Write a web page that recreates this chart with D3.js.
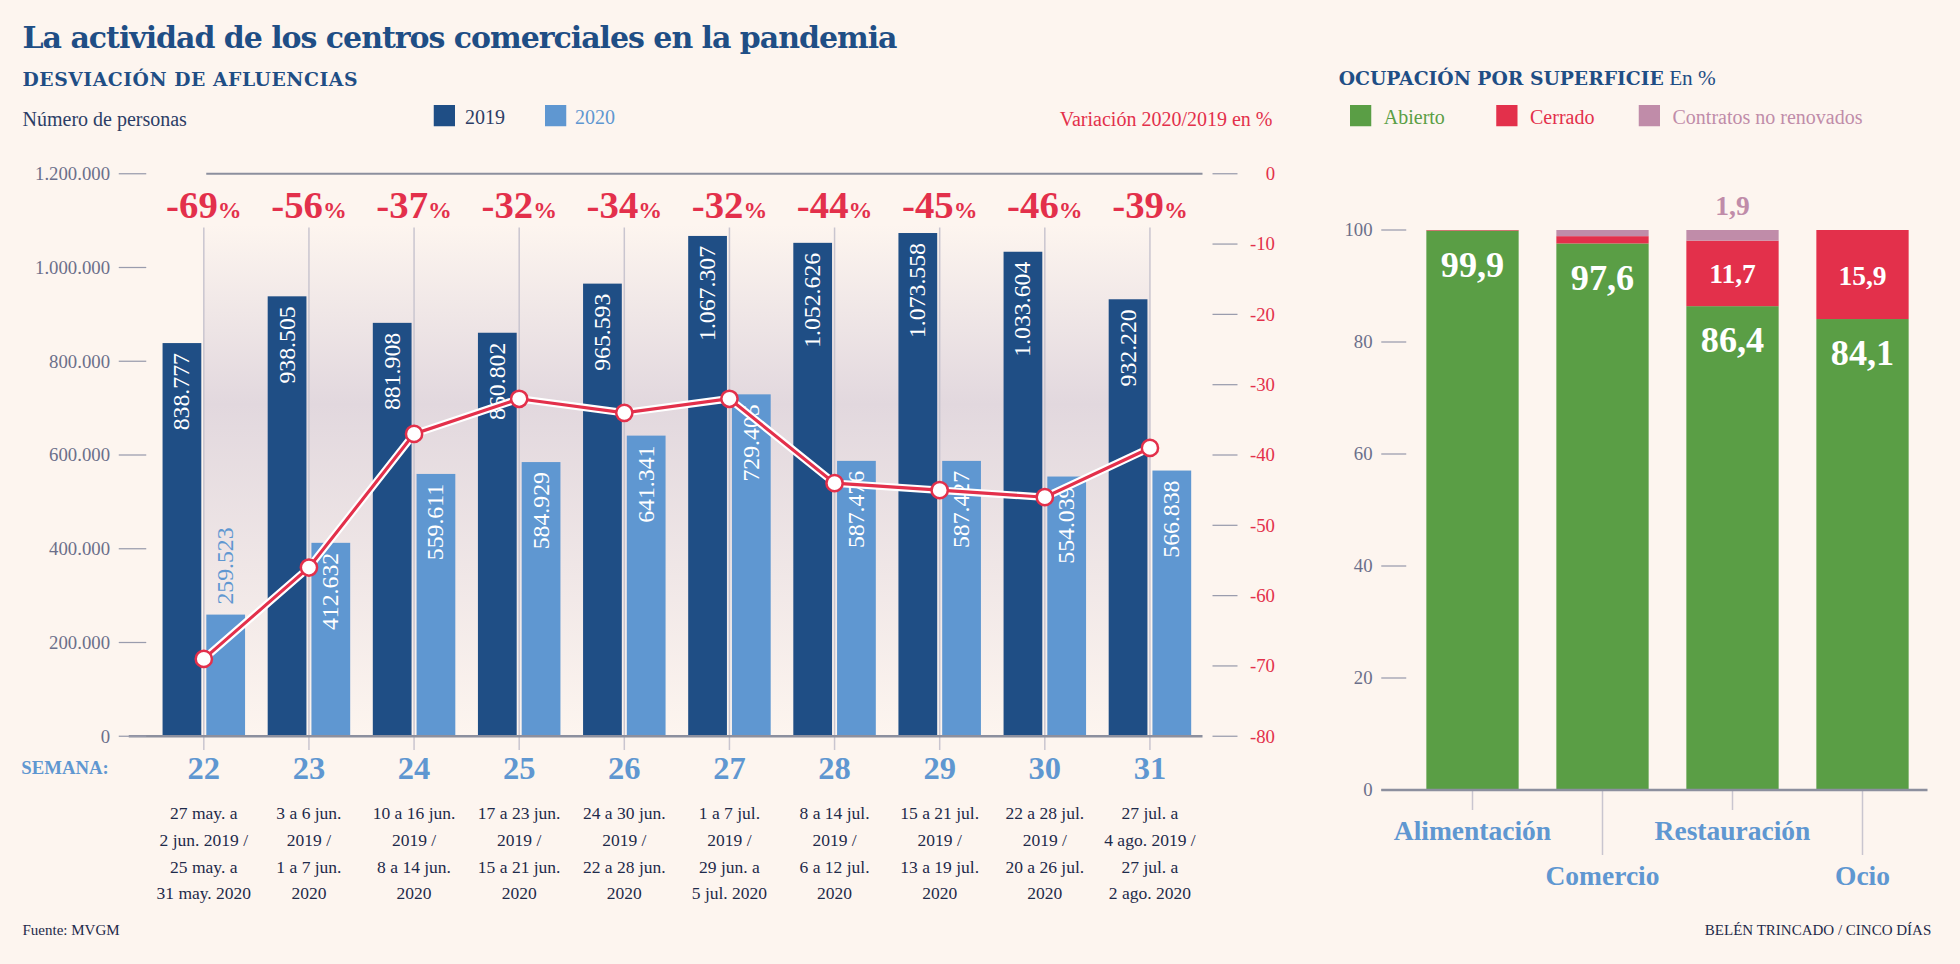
<!DOCTYPE html>
<html><head><meta charset="utf-8">
<script src="https://cdn.jsdelivr.net/npm/d3@7"></script>
<style>body{margin:0;background:#fdf5ef}</style></head>
<body><svg id="c" width="1960" height="964"></svg>
<script>
const weeks=["22","23","24","25","26","27","28","29","30","31"];
const v2019=[838777,938505,881908,860802,965593,1067307,1052626,1073558,1033604,932220];
const v2020=[259523,412632,559611,584929,641341,729405,587476,587427,554039,566838];
const variation=[-69,-56,-37,-32,-34,-32,-44,-45,-46,-39];
const dates=[["27 may. a","2 jun. 2019 /","25 may. a","31 may.  2020"],["3 a 6 jun.","2019 /","1 a 7 jun.","2020"],["10 a 16 jun.","2019 /","8 a 14 jun.","2020"],["17 a 23 jun.","2019 /","15 a 21 jun.","2020"],["24 a 30 jun.","2019 /","22 a 28 jun.","2020"],["1 a 7 jul.","2019 /","29 jun. a","5 jul. 2020"],["8 a 14 jul.","2019 /","6 a 12 jul.","2020"],["15 a 21 jul.","2019 /","13 a 19 jul.","2020"],["22 a 28 jul.","2019 /","20 a 26 jul.","2020"],["27 jul. a","4 ago. 2019 /","27 jul. a","2 ago. 2020"]];
const leftTicks=[0,200000,400000,600000,800000,1000000,1200000];
const rightTicks=[0,-10,-20,-30,-40,-50,-60,-70,-80];
const sectors=["Alimentación","Comercio","Restauración","Ocio"];
const abierto=[99.9,97.6,86.4,84.1];
const cerrado=[0.1,1.3,11.7,15.9];
const noRenov=[0,1.1,1.9,0];
const pctTicks=[0,20,40,60,80,100];

const C19="#1f4e85",C20="#5f97d1",RED="#e3304b",GR="#5a9e45",PK="#c08ca9",AX="#6b6f8a";
const SERIF="'DejaVu Serif', serif", LS="'Liberation Serif', serif";
const root=d3.select("#c");
root.append("rect").attr("width",1960).attr("height",964).attr("fill","#fdf5ef");
const svg=root.append("g").attr("transform","scale(1.25)");
const fmt=n=>d3.format(",")(n).replace(/,/g,".");
const T=(x,y,t,o={})=>svg.append("text").attr("x",x).attr("y",y).text(t)
 .attr("font-family",o.f||SERIF).attr("font-size",o.s||16).attr("fill",o.c||C19)
 .attr("font-weight",o.w||"normal").attr("text-anchor",o.a||"start");

T(18,38,"La actividad de los centros comerciales en la pandemia",{s:24,w:"bold"}).attr("textLength",700);
T(18,69,"DESVIACIÓN DE AFLUENCIAS",{s:15,w:"bold"}).attr("textLength",268);
T(18,101,"Número de personas",{s:16,f:LS,c:"#2c3d66"});
svg.append("rect").attr("x",347).attr("y",84).attr("width",17).attr("height",17).attr("fill",C19);
T(372,99,"2019",{s:16,f:LS,c:"#2c3d66"});
svg.append("rect").attr("x",436).attr("y",84).attr("width",17).attr("height",17).attr("fill",C20);
T(460,99,"2020",{s:16,f:LS,c:C20});
T(1018,101,"Variación 2020/2019 en %",{s:16,f:LS,c:RED,a:"end"});

const x=d3.scaleBand().domain(weeks).range([121,962]);
const cx=w=>x(w)+x.bandwidth()/2;
const y=d3.scaleLinear().domain([0,1200000]).range([589,139]);
const yr=d3.scaleLinear().domain([-80,0]).range([589,139]);
const defs=svg.append("defs");
const g=defs.append("linearGradient").attr("id","bg").attr("x1",0).attr("x2",0).attr("y1",0).attr("y2",1);
g.append("stop").attr("offset",0).attr("stop-color","#fdf5ef");
g.append("stop").attr("offset",0.35).attr("stop-color","#e2d8de");
g.append("stop").attr("offset",1).attr("stop-color","#fdf5ef");
svg.append("rect").attr("x",cx(weeks[0])).attr("y",180).attr("width",cx(weeks[9])-cx(weeks[0])).attr("height",409).attr("fill","url(#bg)");
svg.append("line").attr("x1",165).attr("x2",962).attr("y1",yr(0)).attr("y2",yr(0)).attr("stroke","#8c8f9e").attr("stroke-width",1.5);
weeks.forEach(w=>svg.append("line").attr("x1",cx(w)).attr("x2",cx(w)).attr("y1",182).attr("y2",600).attr("stroke","#c9c5cf").attr("stroke-width",1.2));
const bw=31;
weeks.forEach((w,i)=>{
 const c=cx(w);
 svg.append("rect").attr("x",c-bw-2).attr("y",y(v2019[i])).attr("width",bw).attr("height",589-y(v2019[i])).attr("fill",C19);
 svg.append("rect").attr("x",c+2).attr("y",y(v2020[i])).attr("width",bw).attr("height",589-y(v2020[i])).attr("fill",C20);
 svg.append("text").attr("transform",`translate(${c-bw/2-2+6},${y(v2019[i])+8}) rotate(-90)`).attr("text-anchor","end")
  .attr("font-family",LS).attr("font-size",19).attr("fill","#fff").text(fmt(v2019[i]));
 const inside=i>0;
 svg.append("text").attr("transform",inside?`translate(${c+bw/2+2+6},${y(v2020[i])+8}) rotate(-90)`:`translate(${c+bw/2+2+6},${y(v2020[i])-8}) rotate(-90)`)
  .attr("text-anchor",inside?"end":"start").attr("font-family",LS).attr("font-size",19).attr("fill",inside?"#fff":C20).text(fmt(v2020[i]));
 const pt=T(c,174,"",{s:31,f:LS,c:RED,a:"middle",w:"bold"});
 pt.append("tspan").text(variation[i]);
 pt.append("tspan").attr("font-size",19).text("%");
 T(c,623,String(weeks[i]),{s:26,f:LS,w:"bold",c:C20,a:"middle"});
 dates[i].forEach((d,k)=>T(c,655+k*21.5,d,{s:14,f:LS,c:"#1e2a4a",a:"middle"}));
});
T(17,619,"SEMANA:",{s:15,f:LS,w:"bold",c:C20});
svg.append("line").attr("x1",103).attr("x2",962).attr("y1",589).attr("y2",589).attr("stroke","#8c8f9e").attr("stroke-width",2);
leftTicks.forEach(t=>{T(88,y(t)+5,fmt(t),{s:15,f:LS,c:AX,a:"end"});
 svg.append("line").attr("x1",95).attr("x2",117).attr("y1",y(t)).attr("y2",y(t)).attr("stroke","#9a9cad");});
rightTicks.forEach(t=>{T(1020,yr(t)+5,t,{s:15,f:LS,c:RED,a:"end"});
 svg.append("line").attr("x1",970).attr("x2",990).attr("y1",yr(t)).attr("y2",yr(t)).attr("stroke","#9a9cad");});
const line=d3.line().x((d,i)=>cx(weeks[i])).y(d=>yr(d));
svg.append("path").attr("d",line(variation)).attr("fill","none").attr("stroke","#fff").attr("stroke-width",6);
svg.append("path").attr("d",line(variation)).attr("fill","none").attr("stroke",RED).attr("stroke-width",2.5);
variation.forEach((v,i)=>svg.append("circle").attr("cx",cx(weeks[i])).attr("cy",yr(v)).attr("r",6.5).attr("fill","#fff").attr("stroke",RED).attr("stroke-width",2));

T(1071,68,"",{s:15,w:"bold"}).call(t=>{t.append("tspan").text("OCUPACIÓN POR SUPERFICIE");t.append("tspan").attr("font-weight","normal").attr("font-family",LS).attr("font-size",17).text(" En %");});
[[GR,"Abierto",1080],[RED,"Cerrado",1197],[PK,"Contratos no renovados",1311]].forEach(([c,l,xx])=>{
 svg.append("rect").attr("x",xx).attr("y",84).attr("width",17).attr("height",17).attr("fill",c);
 T(xx+27,99,l,{s:16,f:LS,c});});
const xs=d3.scaleBand().domain(sectors).range([1126,1542]).paddingInner(0.29).paddingOuter(0.145);
const ys=d3.scaleLinear().domain([0,100]).range([632,184]);
pctTicks.forEach(t=>{T(1098,ys(t)+5,t,{s:15,f:LS,c:AX,a:"end"});
 svg.append("line").attr("x1",1105).attr("x2",1125).attr("y1",ys(t)).attr("y2",ys(t)).attr("stroke","#9a9cad");});
sectors.forEach((s,i)=>{
 const bx=xs(s),w=xs.bandwidth(),c=bx+w/2;
 let acc=0;
 [[abierto[i],GR],[cerrado[i],RED],[noRenov[i],PK]].forEach(([v,col])=>{
  if(v>0) svg.append("rect").attr("x",bx).attr("y",ys(acc+v)).attr("width",w).attr("height",ys(acc)-ys(acc+v)).attr("fill",col);
  acc+=v;});
 T(c,ys(abierto[i])+37,String(abierto[i]).replace(".",","),{s:29,f:LS,w:"bold",c:"#fff",a:"middle"});
 if(cerrado[i]>5) T(c,ys(abierto[i]+cerrado[i]/2)+8,String(cerrado[i]).replace(".",","),{s:22,f:LS,w:"bold",c:"#fff",a:"middle"});
 if(i==2) T(c,ys(100)-12,String(noRenov[i]).replace(".",","),{s:22,f:LS,w:"bold",c:PK,a:"middle"});
 svg.append("line").attr("x1",c).attr("x2",c).attr("y1",632).attr("y2",i%2?684:648).attr("stroke","#c9c5cf").attr("stroke-width",1.2);
 T(c,i%2?708:672,s,{s:22,f:LS,w:"bold",c:C20,a:"middle"});
});
svg.append("line").attr("x1",1105).attr("x2",1542).attr("y1",632).attr("y2",632).attr("stroke","#8c8f9e").attr("stroke-width",2);
T(18,748,"Fuente: MVGM",{s:12,f:LS,c:"#1e2a4a"});
T(1545,748,"BELÉN TRINCADO / CINCO DÍAS",{s:12,f:LS,c:"#1e2a4a",a:"end"});
</script></body></html>
